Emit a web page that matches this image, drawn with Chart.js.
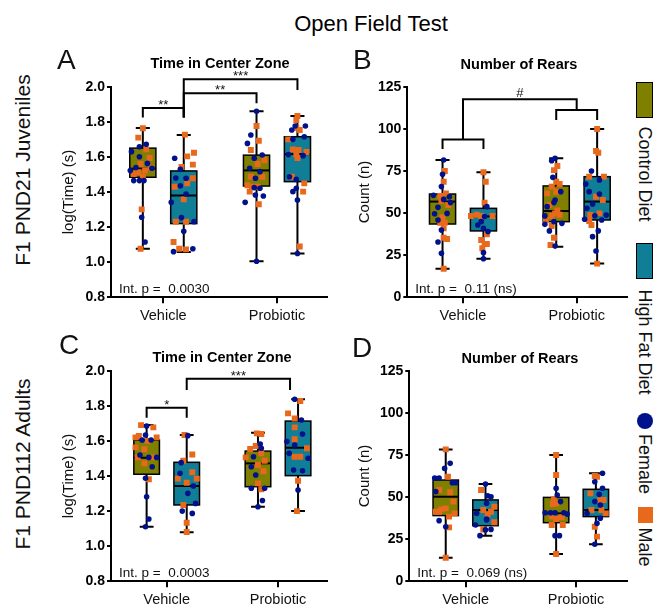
<!DOCTYPE html>
<html>
<head>
<meta charset="utf-8">
<script src="https://cdn.jsdelivr.net/npm/chart.js@4.4.0/dist/chart.umd.min.js"></script>
<style>
	body { margin: 0; width: 660px; height: 608px; background: #fff; position: relative; overflow: hidden; font-family: "Liberation Sans", Arial, sans-serif; }
	canvas { position: absolute; }
	.t { position: absolute; white-space: nowrap; color: #000; line-height: 1; transform: translate(-50%, -50%); }
	.ttl { font-weight: bold; font-size: 14.5px; }
	.let { position: absolute; font-size: 28px; line-height: 1; color: #111; }
	.row { font-size: 21px; color: #111; transform: translate(-50%, -50%) rotate(-90deg); }
	.leg { font-size: 18px; color: #111; transform: translate(-50%, -50%) rotate(90deg); }
	.sw { position: absolute; box-sizing: border-box; }
</style>
</head>
<body>

<canvas id="cA" width="295" height="270" style="left:40px; top:60px;"></canvas>
<canvas id="cB" width="295" height="270" style="left:336px; top:60px;"></canvas>
<canvas id="cC" width="295" height="270" style="left:40px; top:344px;"></canvas>
<canvas id="cD" width="295" height="270" style="left:336px; top:344px;"></canvas>

<div class="t" style="left:371px; top:24px; font-size:22px;">Open Field Test</div>

<div class="let" style="left:57px; top:46px;">A</div>
<div class="let" style="left:353px; top:46px;">B</div>
<div class="let" style="left:59px; top:331px;">C</div>
<div class="let" style="left:352px; top:334px;">D</div>

<div class="t ttl" style="left:220px; top:63px;">Time in Center Zone</div>
<div class="t ttl" style="left:519px; top:64px;">Number of Rears</div>
<div class="t ttl" style="left:222px; top:357px;">Time in Center Zone</div>
<div class="t ttl" style="left:520px; top:358px;">Number of Rears</div>

<div class="t row" style="left:22px; top:170px;">F1 PND21 Juveniles</div>
<div class="t row" style="left:22px; top:464px;">F1 PND112 Adults</div>

<div class="sw" style="left:636px; top:82px; width:17px; height:36px; background:#7f7f00; border:1.5px solid #000;"></div>
<div class="t leg" style="left:645px; top:174px;">Control Diet</div>
<div class="sw" style="left:636px; top:243px; width:17px; height:36px; background:#0f7e96; border:1.5px solid #000;"></div>
<div class="t leg" style="left:645px; top:342px;">High Fat Diet</div>
<div class="sw" style="left:637px; top:413px; width:16px; height:16px; background:#00118c; border-radius:50%;"></div>
<div class="t leg" style="left:645px; top:464px;">Female</div>
<div class="sw" style="left:638px; top:507px; width:15px; height:16px; background:#e8691c;"></div>
<div class="t leg" style="left:645px; top:547px;">Male</div>

<script>
	const groups = ['Vehicle', 'Probiotic'];

	// box stats [min, q1, median, q3, max] : control/vehicle, hfd/vehicle, control/probiotic, hfd/probiotic
	const timeJuvBoxes = [
		[1.077, 1.484, 1.533, 1.650, 1.765],
		[1.058, 1.220, 1.380, 1.520, 1.725],
		[1.005, 1.434, 1.523, 1.610, 1.860],
		[1.050, 1.459, 1.616, 1.715, 1.833]
	];
	const rearsJuvBoxes = [
		[17.0, 43.5, 56.8, 61.3, 81.5],
		[22.9, 39.4, 48.0, 52.8, 74.2],
		[30.0, 44.9, 51.2, 66.1, 82.5],
		[20.0, 45.9, 56.8, 71.6, 99.9]
	];
	const timeAdultBoxes = [
		[1.111, 1.410, 1.504, 1.605, 1.690],
		[1.079, 1.235, 1.343, 1.478, 1.633],
		[1.225, 1.339, 1.472, 1.542, 1.647],
		[1.200, 1.402, 1.561, 1.713, 1.837]
	];
	const rearsAdultBoxes = [
		[14.0, 39.0, 50.2, 60.1, 78.3],
		[27.0, 33.0, 42.3, 48.3, 57.7],
		[16.2, 34.8, 40.3, 49.8, 75.0],
		[22.0, 38.4, 42.3, 54.6, 64.1]
	];

	// individual animals [jitter, value] per box
	const timeJuvFemale = [
		[[.03,1.672],[-.03,1.658],[-.10,1.63],[-.03,1.601],[.04,1.563],[-.06,1.539],[-.11,1.522],[.08,1.535],[-.08,1.465],[-.03,1.465],[.01,1.465],[-.01,1.256],[.02,1.115]],
		[[-.08,1.592],[-.03,1.529],[.02,1.478],[-.07,1.48],[-.03,1.436],[.02,1.389],[-.11,1.341],[-.02,1.254],[.09,1.231],[0,1.176],[-.09,1.06],[.08,1.077]],
		[[0,1.86],[-.05,1.725],[-.08,1.677],[.05,1.611],[-.02,1.592],[-.06,1.535],[.03,1.516],[-.01,1.478],[-.02,1.425],[.03,1.421],[.06,1.377],[-.01,1.383],[-.1,1.341],[0,1.005]],
		[[-.02,1.776],[.07,1.776],[-.05,1.753],[.06,1.715],[-.04,1.7],[-.08,1.613],[.05,1.607],[-.07,1.487],[-.01,1.472],[-.04,1.402],[-.01,1.421],[0,1.354],[0,1.05]]
	];
	const timeJuvMale = [
		[[0,1.763],[-.04,1.71],[.03,1.643],[.06,1.594],[-.02,1.56],[.07,1.539],[.02,1.522],[-.04,1.512],[-.08,1.503],[0,1.487],[-.01,1.301],[-.02,1.077]],
		[[.01,1.727],[.03,1.603],[.09,1.624],[.08,1.556],[-.02,1.542],[.08,1.478],[.03,1.449],[-.08,1.43],[0,1.358],[-.07,1.231],[.02,1.231],[-.09,1.115],[-.04,1.077],[.02,1.073]],
		[[0,1.776],[.02,1.692],[-.05,1.639],[.07,1.582],[.01,1.56],[-.05,1.487],[.05,1.487],[-.04,1.43],[.01,1.43],[-.08,1.438],[-.06,1.402],[.02,1.33]],
		[[0,1.833],[-.01,1.81],[-.01,1.766],[.02,1.753],[-.08,1.7],[.08,1.628],[-.04,1.643],[.01,1.639],[0,1.594],[-.01,1.615],[-.05,1.487],[.06,1.449],[.05,1.402],[.02,1.089]]
	];
	const rearsJuvFemale = [
		[[.01,81.5],[0,73],[-.01,65.7],[-.08,60.5],[.06,59.7],[.01,58.1],[.07,56.2],[-.04,53.4],[.04,49.8],[-.07,49.6],[-.04,45.9],[-.01,39.9],[-.04,32.8],[-.01,26.1]],
		[[.03,53.8],[.01,47.9],[-.02,44.9],[-.05,42.9],[0,40.9],[.04,39],[0,26.5],[0,22.9]],
		[[-.01,82.5],[-.04,81.1],[-.03,71.2],[.04,62.7],[-.01,57.7],[-.02,56.2],[-.08,53.8],[-.1,48.3],[-.02,44.9],[.05,43.9],[-.1,43.3],[-.06,39.4],[-.01,30.4]],
		[[-.05,75],[-.1,67.2],[.02,69.6],[-.07,62.7],[.02,61.3],[-.04,55.4],[-.09,52.8],[-.02,48.4],[-.11,46.3],[.08,48.8],[.04,45.9],[.01,39.4],[-.04,36],[-.01,27.5]]
	];
	const rearsJuvMale = [
		[[.02,75],[.01,68.6],[.03,61.7],[-.02,60.1],[-.01,57.2],[.05,54.8],[0,47.5],[-.02,44.3],[.02,44.3],[.01,40.9],[.01,35.4],[.04,34.6],[.01,17]],
		[[0,74.2],[.02,68.6],[.01,56.2],[-.06,49],[-.11,48.3],[.08,48.3],[-.02,48.3],[.03,37.4],[-.02,34],[.01,31.6],[.03,31.6],[-.01,29.1]],
		[[.01,77.9],[-.02,75.5],[0,68.6],[.03,67.2],[-.04,65.7],[0,62.7],[-.08,61.7],[-.06,54.8],[.01,51.6],[-.01,49.8],[-.04,48.3],[.03,49],[-.09,46.1],[-.04,42.3],[-.02,35.4],[-.05,31]],
		[[0,99.9],[-.01,86.8],[.01,85.8],[-.07,71.6],[.06,71.6],[-.01,59.7],[.05,57.7],[.02,49.8],[-.06,48.8],[-.07,45.3],[-.05,42.9],[0,20]]
	];
	const timeAdultFemale = [
		[[0,1.685],[-.01,1.634],[-.04,1.605],[.04,1.605],[-.06,1.52],[.02,1.506],[.09,1.506],[.05,1.453],[-.01,1.387],[0,1.282],[.02,1.155],[-.01,1.111]],
		[[.01,1.63],[-.05,1.476],[-.06,1.415],[.06,1.343],[.01,1.301],[.08,1.244],[-.04,1.2],[.05,1.187]],
		[[.02,1.582],[.03,1.558],[-.04,1.51],[-.06,1.453],[-.02,1.406],[-.06,1.33],[.06,1.33],[.04,1.26],[0,1.225]],
		[[-.03,1.837],[.03,1.719],[.04,1.639],[-.1,1.596],[-.03,1.577],[-.08,1.529],[.09,1.501],[-.04,1.434],[.04,1.43],[0,1.32]]
	];
	const timeAdultMale = [
		[[-.05,1.69],[.06,1.677],[-.07,1.628],[-.1,1.62],[.09,1.62],[.01,1.6],[-.1,1.563],[-.02,1.552],[-.08,1.506],[.05,1.506],[-.02,1.472],[.02,1.381]],
		[[-.02,1.634],[.05,1.523],[-.03,1.487],[.05,1.421],[-.08,1.385],[.09,1.385],[0,1.362],[-.03,1.235],[0,1.134],[0,1.081]],
		[[-.01,1.643],[.03,1.639],[-.02,1.571],[-.07,1.554],[.03,1.529],[-.11,1.506],[.06,1.487],[0,1.463],[.05,1.427],[0,1.358],[.03,1.324]],
		[[.02,1.827],[-.09,1.757],[-.03,1.728],[-.03,1.677],[-.03,1.609],[.08,1.558],[-.03,1.51],[.02,1.51],[0,1.373],[-.01,1.2]]
	];
	const rearsAdultFemale = [
		[[.04,70],[-.01,67],[-.1,61.3],[-.06,61.3],[.06,58.5],[.09,58.5],[-.09,53.2],[-.06,36],[0,32.4]],
		[[0,57.7],[.02,50.8],[.05,50.2],[.01,46.3],[-.08,40.3],[.01,37],[-.09,33.4],[.01,36.4],[0,30.5],[.05,30.8],[-.05,27.1]],
		[[0,55.2],[.01,51.2],[.04,47.3],[-.1,40.7],[-.05,40.7],[-.01,40.7],[.07,40.7],[.1,39.9],[-.01,27.1],[.03,27.1]],
		[[.06,64.1],[-.01,59.1],[.06,55.2],[.03,51.6],[-.01,47.3],[.04,45.3],[-.08,40.3],[.04,37.4],[.01,34.4],[-.01,22]]
	];
	const rearsAdultMale = [
		[[0,78.3],[.02,62.1],[-.06,54.2],[.04,52.8],[.07,47.3],[-.04,42.7],[-.09,41.3],[-.06,41.3],[0,43.3],[.08,40.3],[.03,38.4],[.03,32],[0,14]],
		[[-.04,54.2],[.08,44.3],[-.02,42.3],[.05,41.3],[.02,39.7],[.08,35],[-.02,30.8]],
		[[0,75],[0,63.1],[-.03,45.9],[0,46.3],[-.04,38.4],[.05,38],[0,37],[-.04,33.4],[.06,33.4],[0,16.2],[-.02,48.7]],
		[[-.01,62.5],[.01,62.1],[-.05,52.2],[.04,48.3],[.07,48.3],[-.04,42.3],[.05,42.3],[.09,40.3],[-.01,32.4],[.01,26.5]]
	];

	// brackets [from box, to box, bar level, left end, right end, label]
	const timeJuvSig = [[0, 1, 1.878, 1.825, 1.825, '**'], [1, 2, 1.962, 1.825, 1.905, '**'], [1, 3, 2.042, 1.825, 1.981, '***']];
	const rearsJuvSig = [[0, 1, 93.7, 88, 88, ''], [2, 3, 111.2, 105.2, 105.2, ''], [0.5, 2.5, 117.5, 93.7, 111.2, '#']];
	const timeAdultSig = [[0, 1, 1.789, 1.732, 1.732, '*'], [1, 2.8, 1.954, 1.89, 1.89, '***']];
	const rearsAdultSig = [];

	const notes = ['Int. p =  0.0030', 'Int. p =  0.11 (ns)', 'Int. p =  0.0003', 'Int. p =  0.069 (ns)'];

	const ctrlColor = '#7f7f00', hfdColor = '#0f7e96', femaleColor = '#00118c', maleColor = '#e8691c';

	Chart.defaults.font.family = '"Liberation Sans", Arial, sans-serif';
	Chart.defaults.color = '#000';

	function boxPos(i) {
		var p = function(k) { return Math.floor(k / 2) + 1 + (k % 2 ? 0.18 : -0.18); };
		var lo = Math.floor(i), hi = Math.ceil(i);
		return p(lo) + (p(hi) - p(lo)) * (i - lo);
	}

	function toPoints(list) {
		var pts = [];
		list.forEach(function(box, i) {
			box.forEach(function(p) {
				pts.push({ x: boxPos(i) + p[0], y: p[1] });
			});
		});
		return pts;
	}

	const boxPlugin = {
		id: 'boxes',
		beforeDatasetsDraw: function(chart, args, opts) {
			var ctx = chart.ctx, xs = chart.scales.x, ys = chart.scales.y;
			ctx.save();
			ctx.strokeStyle = '#000';
			opts.stats.forEach(function(s, i) {
				var c = boxPos(i);
				var l = xs.getPixelForValue(c - 0.115), r = xs.getPixelForValue(c + 0.115);
				var m = xs.getPixelForValue(c);
				var cl = xs.getPixelForValue(c - 0.062), cr = xs.getPixelForValue(c + 0.062);
				var lo = ys.getPixelForValue(s[0]), q1 = ys.getPixelForValue(s[1]);
				var med = ys.getPixelForValue(s[2]), q3 = ys.getPixelForValue(s[3]), hi = ys.getPixelForValue(s[4]);

				ctx.lineWidth = 2;
				ctx.beginPath();
				ctx.moveTo(m, hi); ctx.lineTo(m, q3);
				ctx.moveTo(m, q1); ctx.lineTo(m, lo);
				ctx.moveTo(cl, hi); ctx.lineTo(cr, hi);
				ctx.moveTo(cl, lo); ctx.lineTo(cr, lo);
				ctx.stroke();

				ctx.fillStyle = i % 2 ? hfdColor : ctrlColor;
				ctx.fillRect(l, q3, r - l, q1 - q3);
				ctx.lineWidth = 1.5;
				ctx.strokeRect(l, q3, r - l, q1 - q3);

				ctx.lineWidth = 2;
				ctx.beginPath();
				ctx.moveTo(l, med); ctx.lineTo(r, med);
				ctx.stroke();
			});
			ctx.restore();
		},
		afterDraw: function(chart, args, opts) {
			var ctx = chart.ctx, xs = chart.scales.x, ys = chart.scales.y, area = chart.chartArea;
			ctx.save();
			ctx.strokeStyle = '#000';
			ctx.fillStyle = '#111';
			ctx.lineWidth = 2;
			ctx.textAlign = 'center';
			opts.sig.forEach(function(b) {
				var x1 = xs.getPixelForValue(boxPos(b[0])), x2 = xs.getPixelForValue(boxPos(b[1]));
				var y = ys.getPixelForValue(b[2]);
				ctx.beginPath();
				ctx.moveTo(x1, ys.getPixelForValue(b[3]));
				ctx.lineTo(x1, y);
				ctx.lineTo(x2, y);
				ctx.lineTo(x2, ys.getPixelForValue(b[4]));
				ctx.stroke();
				if (b[5]) {
					ctx.font = '13px "Liberation Sans", Arial, sans-serif';
					ctx.fillText(b[5], (x1 + x2) / 2, y + (b[5] === '#' ? -2 : 1));
				}
			});
			ctx.textAlign = 'left';
			ctx.font = '13.5px "Liberation Sans", Arial, sans-serif';
			ctx.fillText(opts.note, area.left + 8, area.bottom - 4.5);
			ctx.restore();
		}
	};

	function makeChart(id, o) {
		return new Chart(document.getElementById(id), {
			type: 'scatter',
			data: {
				datasets: [
					{ label: 'Female', data: toPoints(o.female), pointStyle: 'circle', pointRadius: 2.8, backgroundColor: femaleColor, borderWidth: 0 },
					{ label: 'Male', data: toPoints(o.male), pointStyle: 'rect', pointRadius: 4.2, backgroundColor: maleColor, borderWidth: 0 }
				]
			},
			options: {
				responsive: false,
				animation: false,
				events: [],
				layout: { padding: { left: 0, top: 26.7, right: o.padRight, bottom: 0 } },
				plugins: {
					legend: { display: false },
					tooltip: { enabled: false },
					boxes: { stats: o.stats, sig: o.sig, note: o.note }
				},
				scales: {
					x: {
						type: 'linear',
						min: o.xMin,
						max: o.xMax,
						afterBuildTicks: function(axis) { axis.ticks = [{ value: 1 }, { value: 2 }]; },
						afterFit: function(axis) { axis.height = 32.7; },
						grid: { drawOnChartArea: false, tickLength: 6, color: '#000', lineWidth: 2 },
						border: { color: '#000', width: 2 },
						ticks: {
							padding: 4,
							color: '#111',
							font: { size: 14.5 },
							callback: function(v) { return groups[Math.round(v) - 1]; }
						}
					},
					y: {
						min: o.yMin,
						max: o.yMax,
						afterFit: function(axis) { axis.width = o.yWidth; },
						grid: { drawOnChartArea: false, tickLength: 4, color: '#000', lineWidth: 2 },
						border: { color: '#000', width: 2 },
						title: { display: true, text: o.yTitle, color: '#111', font: { size: 15 }, padding: { top: 20, bottom: 0 } },
						ticks: {
							stepSize: o.step,
							padding: 2,
							color: '#000',
							font: { size: 14, weight: 'bold' },
							callback: function(v) { return o.dec ? v.toFixed(o.dec) : v; }
						}
					}
				}
			},
			plugins: [boxPlugin]
		});
	}

	makeChart('cA', { stats: timeJuvBoxes, female: timeJuvFemale, male: timeJuvMale, sig: timeJuvSig, note: notes[0],
		yMin: 0.8, yMax: 2.0, step: 0.2, dec: 1, yTitle: 'log(Time) (s)', xMin: 0.54, xMax: 2.44, yWidth: 71, padRight: 8 });
	makeChart('cB', { stats: rearsJuvBoxes, female: rearsJuvFemale, male: rearsJuvMale, sig: rearsJuvSig, note: notes[1],
		yMin: 0, yMax: 125, step: 25, dec: 0, yTitle: 'Count (n)', xMin: 0.51, xMax: 2.44, yWidth: 71.3, padRight: 4.3 });
	makeChart('cC', { stats: timeAdultBoxes, female: timeAdultFemale, male: timeAdultMale, sig: timeAdultSig, note: notes[2],
		yMin: 0.8, yMax: 2.0, step: 0.2, dec: 1, yTitle: 'log(Time) (s)', xMin: 0.5, xMax: 2.44, yWidth: 71, padRight: 8 });
	makeChart('cD', { stats: rearsAdultBoxes, female: rearsAdultFemale, male: rearsAdultMale, sig: rearsAdultSig, note: notes[3],
		yMin: 0, yMax: 125, step: 25, dec: 0, yTitle: 'Count (n)', xMin: 0.49, xMax: 2.46, yWidth: 73.3, padRight: 1 });
</script>
</body>
</html>
